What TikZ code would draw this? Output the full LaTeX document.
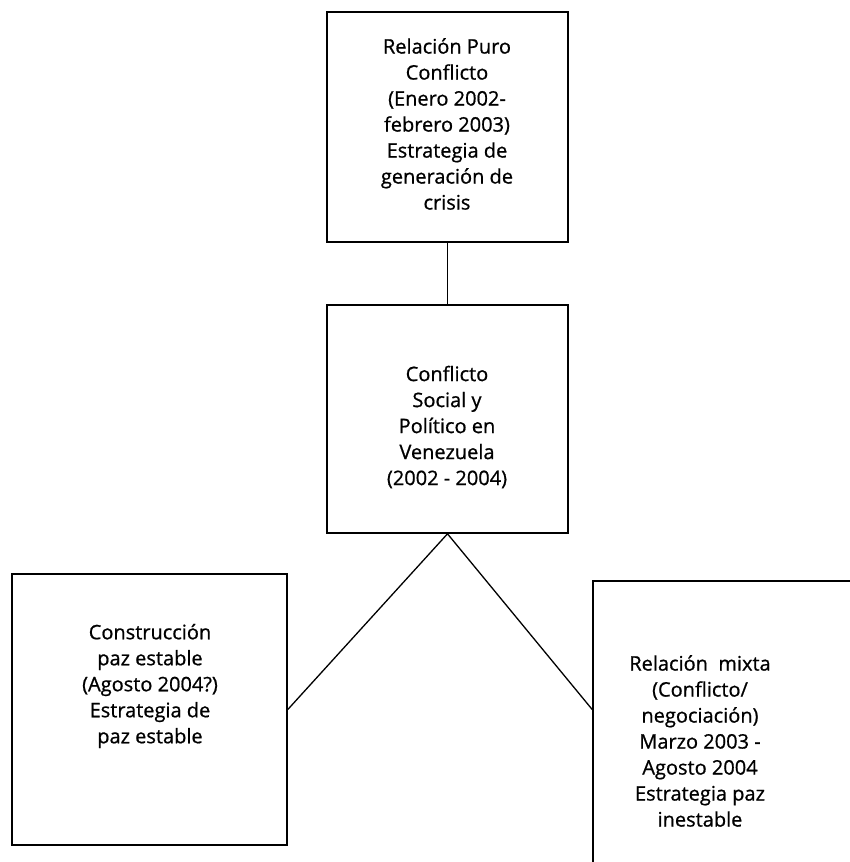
\documentclass[tikz,border=0pt]{standalone}
\usepackage{fontspec}
\setmainfont{Open Sans}
\newfontfamily\boxfont{Open Sans}[FakeBold=0.8]
\begin{document}
\begin{tikzpicture}[x=1pt,y=-1pt,
  box/.style={draw, line width=1.6pt, inner sep=0pt},
  txt/.style={align=center, font=\boxfont\fontsize{20}{26}\selectfont, inner sep=0pt},
  conn/.style={line width=1.3pt}]
\useasboundingbox (0,0) rectangle (850,862);
\clip (0,0) rectangle (850,862);
\node[box, minimum width=241pt, minimum height=230pt] (top) at (447.5,127) {};
\node[box, minimum width=241pt, minimum height=228pt] (mid) at (447.5,419) {};
\node[box, minimum width=275pt, minimum height=271pt] (lbox) at (149.5,709.5) {};
\node[box, minimum width=300pt, minimum height=330pt] (rbox) at (743,746) {};
\node[txt] (ttop) at (447,124) {Relación Puro\\Conflicto\\(Enero 2002-\\febrero 2003)\\Estrategia de\\generación de\\crisis};
\node[txt] (tmid) at (447,427) {Conflicto\\Social y\\Político en\\Venezuela\\(2002 - 2004)};
\node[txt] (tl) at (150,686) {Construcción\\paz estable\\(Agosto 2004?)\\Estrategia de\\paz estable};
\node[txt] (tr) at (700,741) {Relación~ mixta\\(Conflicto/\\negociación)\\Marzo 2003 -\\Agosto 2004\\Estrategia paz\\inestable};
\draw[conn] (top.south) -- (mid.north);
\draw[conn] (lbox.east) -- (mid.south) -- (rbox.west |- lbox.east);
\end{tikzpicture}
\end{document}
